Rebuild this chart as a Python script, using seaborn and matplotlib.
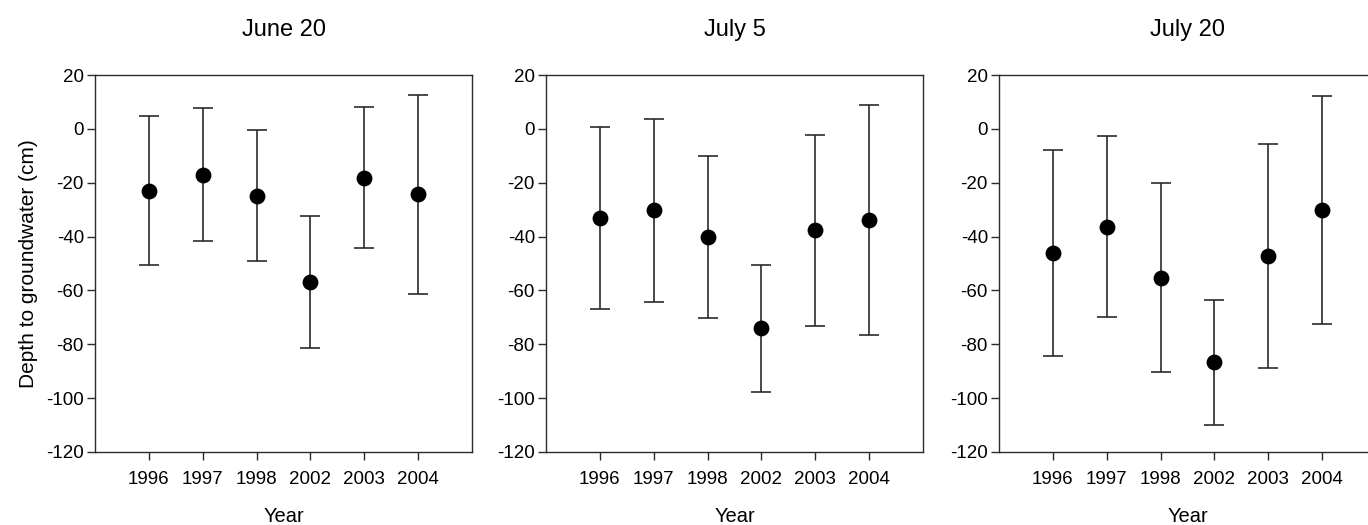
import numpy as np
import pandas as pd
import matplotlib
matplotlib.use("Agg")
import matplotlib.pyplot as plt
import seaborn as sns

years = ["1996", "1997", "1998", "2002", "2003", "2004"]
dates = ["June 20", "July 5", "July 20"]

# mean depth and the ends of the error bars (cm)
june20_mean = [-22.9, -17.1, -24.8, -56.9, -18.1, -24.3]
june20_high = [4.9, 7.8, -0.5, -32.4, 8.2, 12.6]
june20_low = [-50.7, -41.7, -49.0, -81.4, -44.4, -61.4]

july5_mean = [-33.0, -30.3, -40.1, -74.1, -37.7, -33.8]
july5_high = [0.7, 3.6, -10.1, -50.4, -2.4, 9.0]
july5_low = [-67.0, -64.2, -70.2, -97.6, -73.1, -76.6]

july20_mean = [-46.2, -36.3, -55.2, -86.5, -47.4, -30.2]
july20_high = [-8.0, -2.5, -20.2, -63.4, -5.8, 12.1]
july20_low = [-84.3, -70.0, -90.3, -109.8, -88.9, -72.6]

panels = [
    (june20_mean, june20_low, june20_high),
    (july5_mean, july5_low, july5_high),
    (july20_mean, july20_low, july20_high),
]

sns.set_style("ticks")
plt.rcParams["font.family"] = ["Liberation Sans", "DejaVu Sans"]
plt.rcParams["axes.unicode_minus"] = False
plt.rcParams["text.color"] = "black"
plt.rcParams["axes.labelcolor"] = "black"
line_col = "#2b2b2b"

fig = plt.figure(figsize=(13.68, 5.25), dpi=100)
lefts = [95, 546, 999]
for i, (mean, low, high) in enumerate(panels):
    ax = fig.add_axes([lefts[i] / 1368, 73 / 525, 377 / 1368, 377 / 525])
    df = pd.DataFrame({"Year": years, "Depth": mean})
    mean = np.array(mean)
    yerr = np.vstack([mean - np.array(low), np.array(high) - mean])
    ax.errorbar(np.arange(len(years)), mean, yerr=yerr, fmt="none",
                ecolor=line_col, elinewidth=1.2, capsize=7, capthick=1.2, zorder=2)
    sns.scatterplot(data=df, x="Year", y="Depth", ax=ax, color="black",
                    s=130, edgecolor="black", linewidth=0, zorder=3)
    ax.set_xlim(-1, 6)
    ax.set_ylim(-120, 20)
    ax.set_yticks(np.arange(-120, 21, 20))
    ax.set_xticks(range(len(years)))
    ax.set_xticklabels(years)
    for sp in ax.spines.values():
        sp.set_visible(True)
        sp.set_color(line_col)
        sp.set_linewidth(1.0)
    ax.tick_params(axis="both", direction="out", length=6, width=1.0,
                   color=line_col, labelsize=13.5, labelcolor="black")
    ax.tick_params(axis="x", pad=8)
    ax.tick_params(axis="y", pad=2)
    ax.set_xlabel("Year", fontsize=14.5, labelpad=13)
    ax.set_ylabel("Depth to groundwater (cm)" if i == 0 else "", fontsize=15, labelpad=6)
    ax.set_title(dates[i], fontsize=17, pad=28)

plt.savefig("out.png", dpi=100)
